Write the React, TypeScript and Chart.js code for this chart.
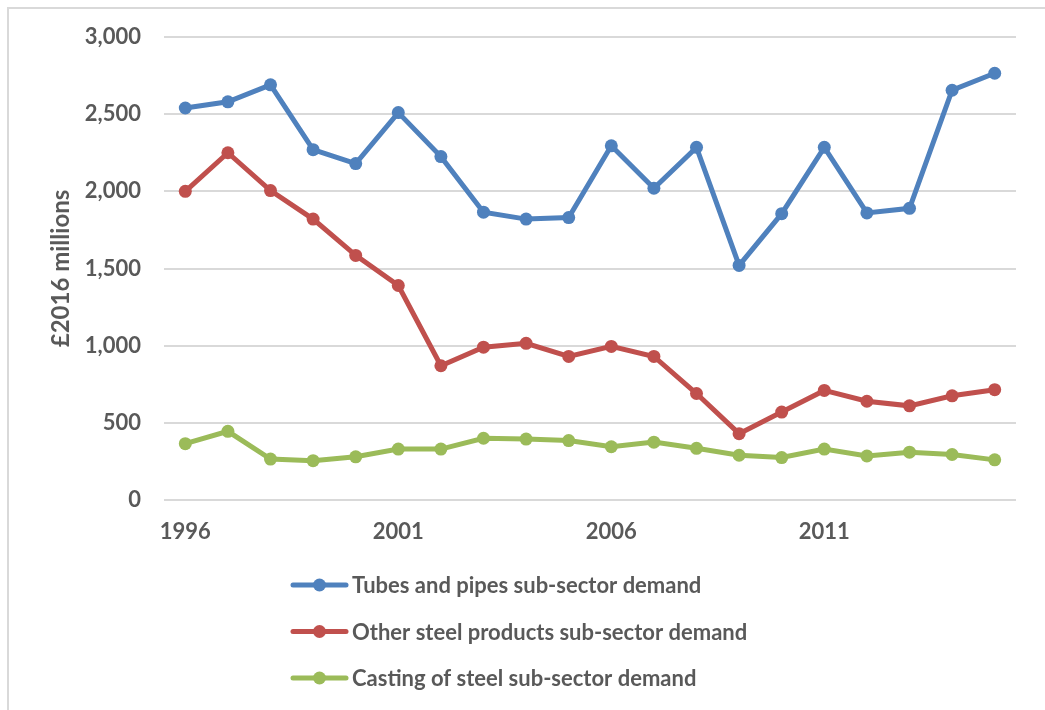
import React, { useEffect, useRef } from "react";
import { Chart, registerables } from "chart.js";

Chart.register(...registerables);

const years = [
  "1996", "1997", "1998", "1999", "2000", "2001", "2002", "2003", "2004", "2005",
  "2006", "2007", "2008", "2009", "2010", "2011", "2012", "2013", "2014", "2015",
];

const tubesAndPipes = [
  2540, 2580, 2690, 2270, 2180, 2510, 2225, 1865, 1820, 1830,
  2295, 2020, 2285, 1520, 1855, 2285, 1860, 1890, 2655, 2765,
];

const otherSteelProducts = [
  2000, 2250, 2005, 1820, 1585, 1390, 870, 990, 1015, 930,
  995, 930, 690, 430, 570, 710, 640, 610, 675, 715,
];

const castingOfSteel = [
  365, 445, 265, 255, 280, 330, 330, 400, 395, 385,
  345, 375, 335, 290, 275, 330, 285, 310, 295, 260,
];

const seriesNames = [
  "Tubes and pipes sub-sector demand",
  "Other steel products sub-sector demand",
  "Casting of steel sub-sector demand",
];

const seriesColors = ["#4F81BD", "#C0504D", "#9BBB59"];

const yTicks = [0, 500, 1000, 1500, 2000, 2500, 3000];

const FONT = "Lato, 'Open Sans', sans-serif";
const FONT_SIZE = 22;
const TEXT = "#595959";
const GRID = "#D9D9D9";

// Excel-style legend: one entry per row, stacked under the x axis
const stackedLegend = {
  id: "stackedLegend",
  afterDraw(chart: any) {
    const { ctx, chartArea } = chart;
    const left = chartArea.left + 127;
    chart.data.datasets.forEach((ds: any, i: number) => {
      const y = chartArea.bottom + 85 + i * 46.5;
      ctx.save();
      ctx.strokeStyle = ds.borderColor;
      ctx.lineWidth = 5;
      ctx.lineCap = "round";
      ctx.beginPath();
      ctx.moveTo(left + 2, y);
      ctx.lineTo(left + 55, y);
      ctx.stroke();
      ctx.fillStyle = ds.borderColor;
      ctx.beginPath();
      ctx.arc(left + 28.5, y, 6.5, 0, Math.PI * 2);
      ctx.fill();
      ctx.font = `bold ${FONT_SIZE}px ${FONT}`;
      ctx.fillStyle = TEXT;
      ctx.textBaseline = "middle";
      ctx.textAlign = "left";
      ctx.fillText(ds.label, left + 61, y + 1);
      ctx.restore();
    });
  },
};

export default function App() {
  const canvasRef = useRef<HTMLCanvasElement | null>(null);

  useEffect(() => {
    document.body.style.overflow = "hidden";
    const canvas = canvasRef.current;
    if (!canvas) return;
    const values = [tubesAndPipes, otherSteelProducts, castingOfSteel];
    const tickFont = { family: FONT, size: FONT_SIZE, weight: "bold" as const };
    const chart = new Chart(canvas, {
      type: "line",
      data: {
        labels: years,
        datasets: values.map((data, i) => ({
          label: seriesNames[i],
          data,
          borderColor: seriesColors[i],
          backgroundColor: seriesColors[i],
          borderWidth: 5,
          pointRadius: 6.5,
          pointBorderWidth: 0,
          pointBackgroundColor: seriesColors[i],
          tension: 0,
          fill: false,
        })),
      },
      options: {
        responsive: false,
        animation: false,
        layout: { padding: { top: 28, right: 29, left: 0, bottom: 0 } },
        plugins: {
          legend: { display: false },
          tooltip: { enabled: false },
        },
        scales: {
          x: {
            offset: true,
            grid: { display: false },
            border: { display: false },
            ticks: {
              autoSkip: false,
              maxRotation: 0,
              padding: 11,
              color: TEXT,
              font: tickFont,
              callback: (_v: any, index: number) =>
                index % 5 === 0 ? years[index] : "",
            },
            afterFit: (scale: any) => {
              scale.height = 210;
            },
          },
          y: {
            min: yTicks[0],
            max: yTicks[yTicks.length - 1],
            afterBuildTicks: (scale: any) => {
              scale.ticks = yTicks.map((v) => ({ value: v }));
            },
            grid: { color: GRID, lineWidth: 2, drawTicks: false },
            border: { display: false },
            ticks: {
              padding: 23,
              color: TEXT,
              font: tickFont,
              callback: (v: any) => Number(v).toLocaleString("en-US"),
            },
            title: {
              display: true,
              text: "£2016 millions",
              color: TEXT,
              font: { family: FONT, size: 24, weight: "bold" as const },
              padding: { top: 38, bottom: 0 },
            },
            afterFit: (scale: any) => {
              scale.width = 155;
              // the tick padding is a horizontal gap only; keep it out of the top/bottom insets
              scale.paddingTop = 0;
              scale.paddingBottom = 0;
            },
          },
        },
      },
      plugins: [stackedLegend],
    });
    return () => chart.destroy();
  }, []);

  return (
    <div
      style={{
        position: "absolute",
        left: 7,
        top: 7,
        borderLeft: `2px solid ${GRID}`,
        borderTop: `2px solid ${GRID}`,
        background: "#fff",
      }}
    >
      <canvas ref={canvasRef} width={1036} height={701} style={{ display: "block" }} />
    </div>
  );
}
